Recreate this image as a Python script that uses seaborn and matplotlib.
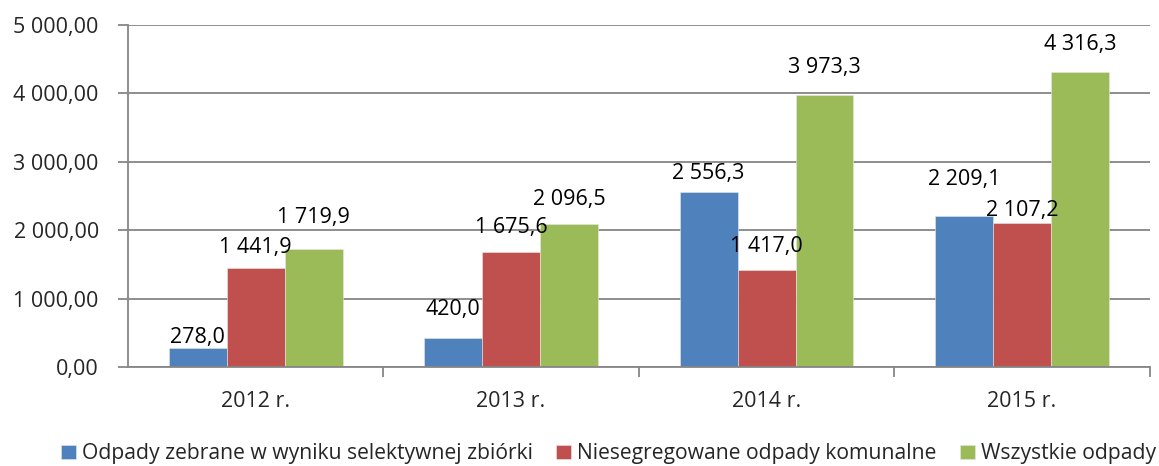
import pandas as pd
import matplotlib
matplotlib.use("Agg")
import matplotlib.pyplot as plt
import seaborn as sns
from matplotlib.ticker import FuncFormatter, FixedLocator

# data
years = ["2012 r.", "2013 r.", "2014 r.", "2015 r."]
series = ["Odpady zebrane w wyniku selektywnej zbiórki",
          "Niesegregowane odpady komunalne",
          "Wszystkie odpady"]
selektywne = [278.0, 420.0, 2556.3, 2209.1]
niesegregowane = [1441.9, 1675.6, 1417.0, 2107.2]
wszystkie = [1719.9, 2096.5, 3973.3, 4316.3]

# label lift above the bar top (pixels), as placed in the original
label_lift = [[11, 29, 19, 36],
              [21, 25, 24, 12],
              [32, 24, 28, 27]]

colors = ["#4F81BD", "#C0504D", "#9BBB59"]

rows = []
for s, vals in zip(series, [selektywne, niesegregowane, wszystkie]):
    for y, v in zip(years, vals):
        rows.append({"rok": y, "seria": s, "wartosc": v})
df = pd.DataFrame(rows)

sns.set_style("white")
plt.rcParams["font.family"] = ["Open Sans", "DejaVu Sans"]

def fmt(v, decimals):
    s = "{:,.{d}f}".format(v, d=decimals)
    return s.replace(",", " ").replace(".", ",")

fig = plt.figure(figsize=(11.59, 4.66), dpi=100)
ax = fig.add_axes([0.1104, 0.2124, 0.8816, 0.734])

sns.barplot(data=df, x="rok", y="wartosc", hue="seria", palette=colors,
            width=0.68, saturation=1, ax=ax, legend=True,
            edgecolor="#e8e8e8", linewidth=0.4)

for i, cont in enumerate(ax.containers):
    for j, bar in enumerate(cont):
        h = bar.get_height()
        ax.annotate(fmt(h, 1), (bar.get_x() + bar.get_width() / 2, h),
                    xytext=(0, label_lift[i][j]), textcoords="offset pixels",
                    ha="center", va="center", fontsize=15.5, color="black")

ax.set_ylim(0, 5000)
ax.set_xlim(-0.5, 3.5)
ax.set_yticks([0, 1000, 2000, 3000, 4000, 5000])
ax.yaxis.set_major_formatter(FuncFormatter(lambda v, p: fmt(v, 2)))
ax.grid(axis="y", color="#868686", linewidth=1.3)
ax.set_axisbelow(True)
ax.set_xlabel("")
ax.set_ylabel("")

for side in ["top", "right"]:
    ax.spines[side].set_visible(False)
for side in ["left", "bottom"]:
    ax.spines[side].set_color("#868686")
    ax.spines[side].set_linewidth(1.3)

ax.tick_params(axis="y", which="major", length=7, width=1.3, color="#868686",
               labelsize=15.5, pad=14, left=True)
ax.tick_params(axis="x", which="major", length=0, labelsize=15.5, pad=17)
ax.xaxis.set_minor_locator(FixedLocator([0.5, 1.5, 2.5, 3.5]))
ax.tick_params(axis="x", which="minor", length=7, width=1.3, color="#868686",
               bottom=True)

ax.get_legend().remove()
handles, labels = ax.get_legend_handles_labels()
fig.legend(handles, labels, loc="center", bbox_to_anchor=(0.525, 0.026),
           ncol=3, frameon=False, fontsize=15.2, handlelength=0.7,
           handleheight=0.7, handletextpad=0.3, columnspacing=1.1)

fig.savefig("out.png", dpi=100)
